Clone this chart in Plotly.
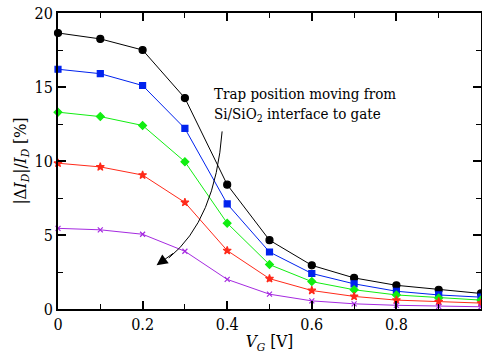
import plotly.graph_objects as go

vg = [0.0, 0.1, 0.2, 0.3, 0.4, 0.5, 0.6, 0.7, 0.8, 0.9, 1.0]
s_black = [18.65, 18.25, 17.5, 14.25, 8.4, 4.65, 2.95, 2.1, 1.6, 1.3, 1.05]
s_blue = [16.2, 15.9, 15.1, 12.2, 7.1, 3.85, 2.4, 1.7, 1.2, 0.95, 0.8]
s_green = [13.3, 13.0, 12.4, 9.95, 5.8, 3.0, 1.85, 1.3, 0.95, 0.75, 0.6]
s_red = [9.85, 9.6, 9.05, 7.2, 3.95, 2.05, 1.25, 0.85, 0.6, 0.5, 0.4]
s_purple = [5.45, 5.35, 5.05, 3.9, 2.0, 1.0, 0.55, 0.35, 0.25, 0.18, 0.15]

series = [
    (s_black, "black", "circle", 7),
    (s_blue, "#0022ee", "square", 6),
    (s_green, "#11ee11", "diamond", 6),
    (s_red, "#ff2a1a", "star", 6),
    (s_purple, "#a52ae0", "x-thin-open", 5),
]

fig = go.Figure()
for ys, col, sym, sz in series:
    fig.add_trace(go.Scatter(
        x=vg, y=ys, mode="lines+markers",
        line=dict(color=col, width=1),
        marker=dict(color=col, symbol=sym, size=sz, line=dict(color=col, width=1.2)),
        showlegend=False, cliponaxis=False,
    ))

serif = "DejaVu Serif Condensed, DejaVu Serif"

# curved arrow body
fig.add_shape(type="path", xref="x", yref="y",
              path="M 0.388,12.0 Q 0.372,6.0 0.262,3.45",
              line=dict(color="black", width=1))
# arrow head
fig.add_annotation(x=0.233, y=2.95, xref="x", yref="y", ax=18, ay=-13,
                   text="", showarrow=True, arrowhead=2, arrowsize=2.2,
                   arrowwidth=1, arrowcolor="black")
fig.add_annotation(x=0.365, y=13.85, xref="x", yref="y", xanchor="left", yanchor="middle",
                   text="Trap position moving from<br>Si/SiO<sub>2</sub> interface to gate",
                   showarrow=False, align="left",
                   font=dict(family=serif, size=15, color="black"))

axis_common = dict(
    showgrid=False, zeroline=False, showline=True, linecolor="black", linewidth=2,
    mirror="allticks", ticks="inside", ticklen=8, tickwidth=1.5, tickcolor="black",
    tickfont=dict(family=serif, size=16, color="black"),
)

fig.update_xaxes(range=[0, 1], dtick=0.2, tick0=0,
                 minor=dict(dtick=0.1, ticks="inside", ticklen=5, tickcolor="black", tickwidth=1),
                 tickformat="~g",
                 title=dict(text="<i>V<sub>G</sub></i> [V]", font=dict(family=serif, size=17, color="black"),
                            standoff=2),
                 **axis_common)
fig.update_yaxes(range=[0, 20], dtick=5, tick0=0,
                 minor=dict(dtick=2.5, ticks="inside", ticklen=5, tickcolor="black", tickwidth=1),
                 title=dict(text="|Δ<i>I<sub>D</sub></i>|/<i>I<sub>D</sub></i> [%]",
                            font=dict(family=serif, size=17, color="black"), standoff=4),
                 **axis_common)

fig.update_layout(width=482, height=354, margin=dict(l=58, r=1, t=13, b=45, autoexpand=False),
                  plot_bgcolor="white", paper_bgcolor="white")

fig.write_html("out.html", config={"displayModeBar": False},
               post_script="document.body.style.margin='0';document.body.style.overflow='hidden';")
